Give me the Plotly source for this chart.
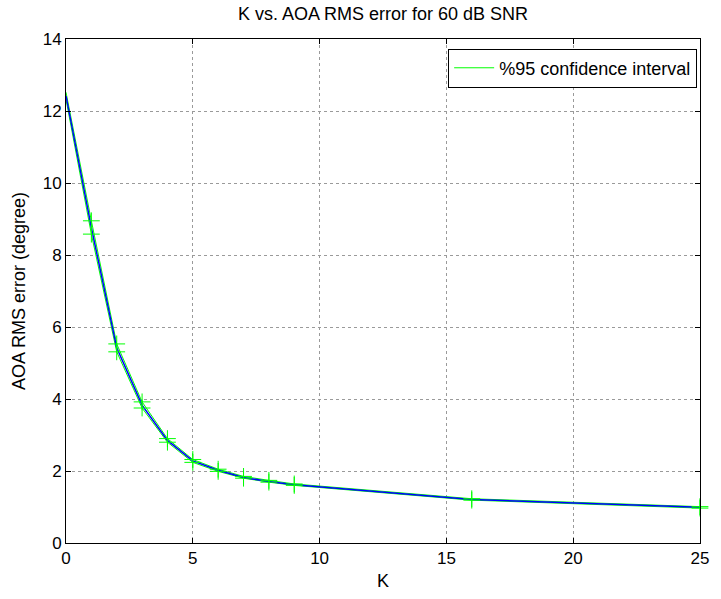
import plotly.graph_objects as go

K = [0, 1, 2, 3, 4, 5, 6, 7, 8, 9, 16, 25]
rms_mean = [12.42, 8.76, 5.42, 3.83, 2.85, 2.28, 2.02, 1.82, 1.71, 1.62, 1.21, 0.99]
ci_upper = [12.52, 8.95, 5.53, 3.92, 2.90, 2.32, 2.05, 1.85, 1.74, 1.64, 1.23, 1.01]
ci_lower = [12.32, 8.58, 5.31, 3.75, 2.80, 2.24, 1.99, 1.80, 1.69, 1.60, 1.19, 0.97]

GREEN = "#00FF00"
BLUE = "#0000FF"
FONT = "Liberation Sans, Arial, sans-serif"

# markers (shown from K=1 onward, as in the reference)
mk_x = K[1:] + K[1:]
mk_y = ci_upper[1:] + ci_lower[1:]

fig = go.Figure()
fig.add_trace(go.Scatter(x=K, y=ci_upper, mode="lines", line=dict(color=GREEN, width=1),
                         name="%95 confidence interval", showlegend=True))
fig.add_trace(go.Scatter(x=K, y=ci_lower, mode="lines", line=dict(color=GREEN, width=1),
                         showlegend=False))
fig.add_trace(go.Scatter(x=K, y=rms_mean, mode="lines", line=dict(color=BLUE, width=1.5),
                         showlegend=False))
fig.add_trace(go.Scatter(x=mk_x, y=mk_y, mode="markers", cliponaxis=False,
                         marker=dict(symbol="cross-thin", size=12, line=dict(color=GREEN, width=1)),
                         showlegend=False))

axis_common = dict(
    showline=True, linecolor="black", linewidth=1, mirror="ticks",
    ticks="inside", ticklen=5, tickcolor="black",
    showgrid=True, gridcolor="#9a9a9a", griddash="dot", gridwidth=1,
    zeroline=False, tickfont=dict(family=FONT, size=17, color="black"),
)

fig.update_layout(
    width=721, height=599,
    margin=dict(l=66, r=15, t=39, b=56),
    paper_bgcolor="white", plot_bgcolor="white",
    title=dict(text="K vs. AOA RMS error for 60 dB SNR", x=0.5, xref="paper",
               y=1 - 14 / 599, yanchor="middle",
               font=dict(family=FONT, size=18, color="black")),
    xaxis=dict(range=[0, 25], dtick=5,
               title=dict(text="K", font=dict(family=FONT, size=18, color="black"), standoff=6),
               **axis_common),
    yaxis=dict(range=[0, 14], dtick=2,
               title=dict(text="AOA RMS error (degree)", font=dict(family=FONT, size=18, color="black"), standoff=12),
               **axis_common),
    legend=dict(x=0.9955, y=0.981, xanchor="right", yanchor="top",
                bgcolor="white", bordercolor="black", borderwidth=1,
                itemwidth=40, tracegroupgap=0,
                font=dict(family=FONT, size=18, color="black")),
    showlegend=True,
)

fig.write_html("out.html")
